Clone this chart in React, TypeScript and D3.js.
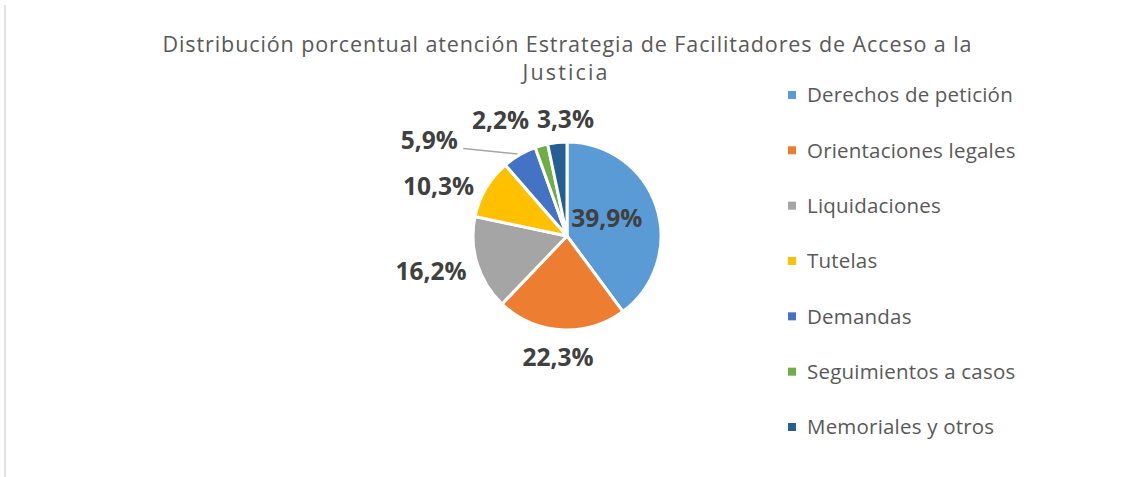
import React from 'react'
import * as d3 from 'd3'

// data
const categories = [
  'Derechos de petición',
  'Orientaciones legales',
  'Liquidaciones',
  'Tutelas',
  'Demandas',
  'Seguimientos a casos',
  'Memoriales y otros',
]
const values = [39.9, 22.3, 16.2, 10.3, 5.9, 2.2, 3.3]
const labels = ['39,9%', '22,3%', '16,2%', '10,3%', '5,9%', '2,2%', '3,3%']
const titleLines = [
  'Distribución porcentual atención Estrategia de Facilitadores de Acceso a la',
  'Justicia',
]

const colors = ['#5B9BD5', '#ED7D31', '#A5A5A5', '#FFC000', '#4472C4', '#70AD47', '#255E91']

// layout
const width = 1122
const height = 477
const cx = 567
const cy = 236
const radius = 94
// shift of each data label from its anchor on the label ring (Excel "best fit")
const labelShift: [number, number][] = [
  [0, -5], [-2, 9], [-29, 2], [-32, 7], [-81, 1], [-36, -8], [10, -5],
]
const leaderFor = [4] // labels drawn with a leader line

const font = "'Open Sans', 'DejaVu Sans', sans-serif"

export default function App() {
  const pie = d3.pie<number>().sort(null).value(d => d)
  const arcs = pie(values)
  const arc = d3.arc<d3.PieArcDatum<number>>().innerRadius(0).outerRadius(radius)

  const legend = d3.scalePoint<string>()
    .domain(categories)
    .range([95, 427])

  const labelPos = arcs.map((a, i) => {
    const mid = (a.startAngle + a.endAngle) / 2
    const rr = i === 0 ? 42 : radius + 18
    return {
      x: cx + rr * Math.sin(mid) + labelShift[i][0],
      y: cy - rr * Math.cos(mid) + labelShift[i][1],
      edgeX: cx + radius * Math.sin(mid),
      edgeY: cy - radius * Math.cos(mid),
    }
  })

  return (
    <svg width={width} height={height} style={{ position: 'absolute', left: 0, top: 0, background: '#fff' }}>
      <line x1={5} x2={5} y1={5} y2={height} stroke="#d9d9d9" strokeWidth={1.5} />

      <g fill="#595959" fontFamily={font} fontSize={21.5} textAnchor="middle">
        <text x={cx} y={52} textLength={809} lengthAdjust="spacing">{titleLines[0]}</text>
        <text x={cx - 2} y={80} textLength={85} lengthAdjust="spacing">{titleLines[1]}</text>
      </g>

      <g transform={`translate(${cx},${cy})`}>
        {arcs.map((a, i) => (
          <path key={i} d={arc(a) || ''} fill={colors[i]} stroke="#fff" strokeWidth={3} strokeLinejoin="round" />
        ))}
      </g>

      {leaderFor.map(i => (
        <line key={i}
          x1={labelPos[i].x + 34} y1={labelPos[i].y + 8}
          x2={labelPos[i].edgeX - 2} y2={labelPos[i].edgeY - 1}
          stroke="#a6a6a6" strokeWidth={1.5} />
      ))}

      <g fill="#404040" fontFamily={font} fontSize={24.5} fontWeight="bold" textAnchor="middle">
        {labels.map((t, i) => (
          <text key={i} x={labelPos[i].x} y={labelPos[i].y} dy="0.36em">{t}</text>
        ))}
      </g>

      <g fontFamily={font} fontSize={20.5} fill="#595959">
        {categories.map((c, i) => (
          <g key={c} transform={`translate(788,${legend(c)})`}>
            <rect x={0} y={-4} width={8} height={8} fill={colors[i]} />
            <text x={19} y={0} dy="0.36em" letterSpacing={0.2}>{c}</text>
          </g>
        ))}
      </g>
    </svg>
  )
}
